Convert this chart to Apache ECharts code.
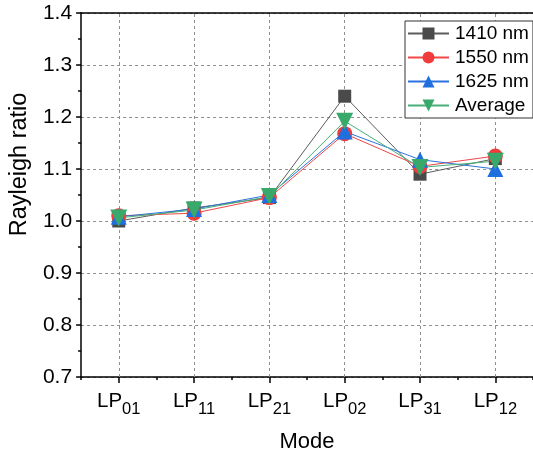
<!DOCTYPE html>
<html>
<head>
<meta charset="utf-8">
<style>
  html, body { margin: 0; padding: 0; background: #fff; }
  #chart { width: 533px; height: 458px; }
</style>
<script src="https://cdn.jsdelivr.net/npm/echarts@6/dist/echarts.min.js"></script>
</head>
<body>
<div id="chart"></div>
<script>
// Mode labels: base name plus subscript index
const modes = ['01', '11', '21', '02', '31', '12'];
const categories = modes.map(m => 'LP' + m);

// Rayleigh ratio per mode at each wavelength
const ratio1410 = [1.000, 1.025, 1.045, 1.240, 1.090, 1.120];
const ratio1550 = [1.010, 1.015, 1.045, 1.168, 1.105, 1.125];
const ratio1625 = [1.008, 1.023, 1.050, 1.172, 1.118, 1.100];
const ratioAverage = [1.006, 1.021, 1.047, 1.192, 1.103, 1.115];

// Y tick range
const yMin = 0.7, yMax = 1.4, yStep = 0.1;

const FONT = "Arial, 'Liberation Sans', sans-serif";
const gridDash = { color: '#8f8f8f', type: [3, 3], width: 1 };

const chart = echarts.init(document.getElementById('chart'), null, { renderer: 'canvas' });

function makeSeries(name, data, color, lineColor, symbol, size, rotate) {
  return {
    name, type: 'line', data,
    xAxisIndex: 0, yAxisIndex: 0,
    symbol, symbolSize: size, symbolRotate: rotate || 0,
    showSymbol: true,
    lineStyle: { color: lineColor, width: 1 },
    itemStyle: { color, borderWidth: 0 },
    emphasis: { disabled: true },
    animation: false
  };
}

const series = [
  makeSeries('1410 nm', ratio1410, '#4a4a4a', '#5c5c5c', 'rect', 13),
  makeSeries('1550 nm', ratio1550, '#f03c3c', '#f04848', 'circle', 15),
  makeSeries('1625 nm', ratio1625, '#1f6fdf', '#2a72e0', 'triangle', 16),
  makeSeries('Average', ratioAverage, '#38a96a', '#48b078', 'triangle', 17, 180)
];

// vertical dashed gridlines at each mode
series[0].markLine = {
  silent: true, symbol: 'none', z: 1, animation: false,
  label: { show: false },
  lineStyle: gridDash,
  data: categories.map(c => ({ xAxis: c }))
};

chart.setOption({
  backgroundColor: '#fff',
  animation: false,
  textStyle: { fontFamily: FONT },
  grid: { left: 72, right: 0, top: 13, bottom: 74, containLabel: false },
  legend: {
    orient: 'vertical',
    left: 405, top: 21,
    padding: [3, 4, 3, 2],
    itemGap: 5,
    itemWidth: 41, itemHeight: 15,
    backgroundColor: '#fff',
    borderColor: '#333', borderWidth: 1,
    textStyle: { fontSize: 19, color: '#000', fontFamily: FONT, padding: [0, 0, 0, 1] },
    data: series.map(s => s.name)
  },
  xAxis: [
    {
      type: 'category', data: categories, boundaryGap: true,
      position: 'bottom',
      name: 'Mode', nameLocation: 'middle', nameGap: 54,
      nameTextStyle: { fontSize: 22, color: '#000', fontFamily: FONT },
      axisLine: { show: true, lineStyle: { color: '#000', width: 1.5 } },
      axisTick: { show: true, alignWithLabel: true, length: 6, lineStyle: { color: '#000', width: 1.5 } },
      axisLabel: {
        interval: 0, margin: 14, color: '#000',
        formatter: (v, i) => '{a|LP}{s|' + modes[i] + '}',
        rich: {
          a: { fontSize: 20.5, fontFamily: FONT, color: '#000', verticalAlign: 'top', lineHeight: 22 },
          s: { fontSize: 16.5, fontFamily: FONT, color: '#000', verticalAlign: 'top', lineHeight: 22, padding: [10, 0, 0, 0] }
        }
      },
      splitLine: { show: false }
    },
    {
      // short ticks on the category boundaries
      type: 'category', data: categories, boundaryGap: true,
      position: 'bottom',
      axisLine: { show: false },
      axisTick: { show: true, interval: 0, length: 3, lineStyle: { color: '#000', width: 1.5 } },
      axisLabel: { show: false },
      splitLine: { show: false }
    },
    {
      // top frame line
      type: 'category', data: categories, boundaryGap: true,
      position: 'top',
      axisLine: { show: true, lineStyle: { color: '#000', width: 1.5 } },
      axisTick: { show: false },
      axisLabel: { show: false },
      splitLine: { show: false }
    }
  ],
  yAxis: [
    {
      type: 'value', min: yMin, max: yMax, interval: yStep,
      name: 'Rayleigh ratio', nameLocation: 'middle', nameGap: 42,
      nameTextStyle: { fontSize: 23.5, color: '#000', fontFamily: FONT, padding: [0, 0, 0, 61] },
      axisLine: { show: true, lineStyle: { color: '#000', width: 1.5 } },
      axisTick: { show: true, length: 5, lineStyle: { color: '#000', width: 1.5 } },
      minorTick: { show: true, splitNumber: 2, length: 3, lineStyle: { color: '#000', width: 1.5 } },
      axisLabel: { margin: 9, fontSize: 21, color: '#000', fontFamily: FONT, formatter: v => v.toFixed(1) },
      splitLine: { show: true, lineStyle: gridDash }
    }
  ],
  series
});
</script>
</body>
</html>
